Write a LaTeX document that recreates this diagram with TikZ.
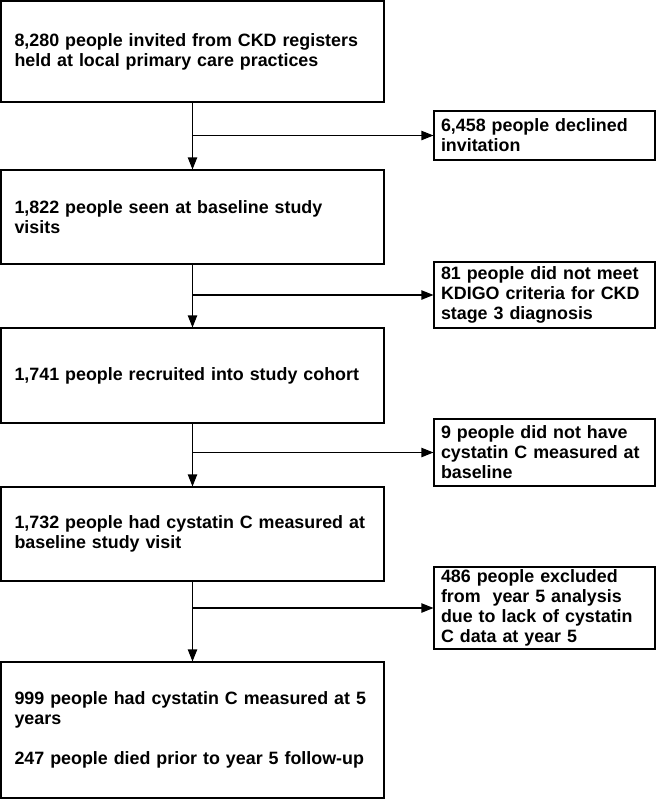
\documentclass[tikz,border=0pt]{standalone}
\usepackage{fontspec}
\setmainfont{Liberation Sans}
\usetikzlibrary{positioning}
\usetikzlibrary{arrows.meta}
\usetikzlibrary{calc}

\begin{document}
\begin{tikzpicture}[x=0.75pt,y=-0.75pt,>={Triangle[length=9pt,width=7pt]},thick,
                    font=\fontsize{13.4}{15}\selectfont\bfseries,
                    main box/.style={rectangle,draw,align=left,inner sep=0pt,
                      minimum width=383*0.75pt,text width=356*0.75pt},
                    side box/.style={rectangle,draw,align=left,inner sep=0pt,
                      minimum width=221*0.75pt,text width=207*0.75pt}]
\useasboundingbox (0,0) rectangle (656,800);
\node[main box,minimum height=101*0.75pt] (invited) at (192.5,51.5) {8,280 people invited from CKD registers\\held at local primary care practices};
\node[main box,minimum height=94*0.75pt] (seen) at (192.5,217) {1,822 people seen at baseline study\\visits};
\node[main box,minimum height=95*0.75pt] (recruited) at (192.5,375.5) {1,741 people recruited into study cohort};
\node[main box,minimum height=94*0.75pt] (measured) at (192.5,534) {1,732 people had cystatin C measured at\\baseline study visit};
\node[main box,minimum height=136*0.75pt] (fiveyear) at (192.5,730) {\mbox{999 people had cystatin C measured at 5}\\years\\[15pt]247 people died prior to year 5 follow-up};

\node[side box,minimum height=49*0.75pt] (declined) at (544.5,135.5) {6,458 people declined\\invitation};
\node[side box,minimum height=66*0.75pt] (kdigo) at (544.5,295) {81 people did not meet\\KDIGO criteria for CKD\\stage 3 diagnosis};
\node[side box,minimum height=67*0.75pt] (nocys) at (544.5,452.5) {9 people did not have\\cystatin C measured at\\baseline};
\node[side box,minimum height=82*0.75pt] (excluded) at (544.5,608) {486 people excluded\\from~ year 5 analysis\\due to lack of cystatin\\C data at year 5};

% flow down the left, exclusions to the right
\foreach \a/\b/\s in {invited/seen/declined,seen/recruited/kdigo,recruited/measured/nocys,measured/fiveyear/excluded}{
  \draw[->] (\a) -- (\b);
  \draw[->] (\a.south |- \s.west) -- (\s.west);
}
\end{tikzpicture}
\end{document}
